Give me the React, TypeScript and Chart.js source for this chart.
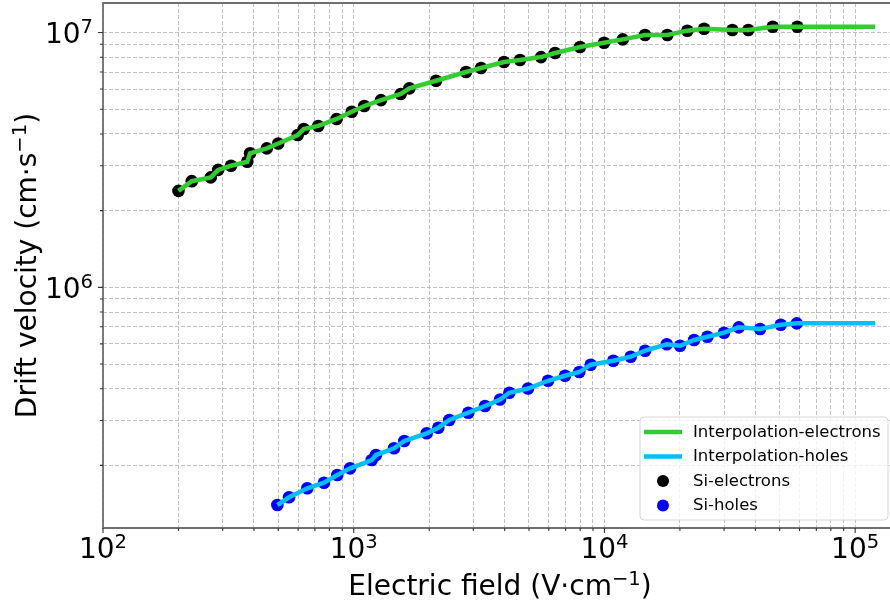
import React, { useEffect, useRef } from 'react';
import { Chart, registerables } from 'chart.js';

Chart.register(...registerables);

// ---------- data ----------
const electronField = [
  200, 226, 269, 288, 324, 376, 386, 450, 500, 598, 632, 722, 855, 982, 1102, 1285, 1540, 1667,
  2130, 2805, 3220, 3977, 4606, 5586, 6353, 7993, 9963, 11830, 14520, 17820, 21410, 24970, 32370,
  37500, 46900, 58790,
];
const electronVelocity = [
  2.39e6, 2.61e6, 2.7e6, 2.89e6, 3.0e6, 3.11e6, 3.36e6, 3.51e6, 3.67e6, 3.96e6, 4.18e6, 4.3e6,
  4.58e6, 4.89e6, 5.15e6, 5.43e6, 5.74e6, 6.04e6, 6.47e6, 7.0e6, 7.26e6, 7.66e6, 7.8e6, 8.01e6,
  8.31e6, 8.77e6, 9.12e6, 9.4e6, 9.78e6, 9.78e6, 1.017e7, 1.035e7, 1.023e7, 1.023e7, 1.054e7,
  1.054e7,
];
const holeField = [
  496, 552, 653, 761, 860, 967, 1180, 1227, 1448, 1591, 1955, 2175, 2406, 2865, 3340, 3834, 4175,
  4958, 5957, 6963, 7941, 8816, 10850, 12730, 14520, 17720, 20030, 22780, 25740, 29990, 34340,
  41760, 50490, 58480,
];
const holeVelocity = [
  1.398e5, 1.499e5, 1.626e5, 1.711e5, 1.834e5, 1.948e5, 2.1e5, 2.197e5, 2.334e5, 2.494e5, 2.673e5,
  2.812e5, 3.015e5, 3.22e5, 3.42e5, 3.628e5, 3.857e5, 4.007e5, 4.298e5, 4.498e5, 4.651e5, 4.969e5,
  5.152e5, 5.341e5, 5.639e5, 5.975e5, 5.899e5, 6.212e5, 6.399e5, 6.635e5, 6.966e5, 6.859e5,
  7.131e5, 7.222e5,
];
// the interpolation curves are carried on to this field
const interpolationEndField = 120000;

const xDecadeExponents = [2, 3, 4, 5];
const yDecadeExponents = [6, 7];
const tickMultipliers = [1, 2, 3, 4, 5, 6, 7, 8, 9];

const xLimits = [100, 1.377e5];
const yLimits = [1.136e5, 1.306e7];

const xTitle = ['Electric field (V·cm', '\u22121', ')'];
const yTitle = ['Drift velocity (cm·s', '\u22121', ')'];
const legendLabels = ['Interpolation-electrons', 'Interpolation-holes', 'Si-electrons', 'Si-holes'];

const FONT = '"DejaVu Sans", "Noto Sans", sans-serif';

function buildTicks(min: number, max: number): number[] {
  const out: number[] = [];
  for (let e = Math.floor(Math.log10(min)); e <= Math.ceil(Math.log10(max)); e++) {
    for (const m of tickMultipliers) {
      const v = m * Math.pow(10, e);
      if (v >= min * 0.9999 && v <= max * 1.0001) out.push(v);
    }
  }
  return out;
}

const xTicks = buildTicks(xLimits[0], xLimits[1]);
const yTicks = buildTicks(yLimits[0], yLimits[1]);

function isDecade(v: number) {
  const l = Math.log10(v);
  return Math.abs(l - Math.round(l)) < 1e-9;
}

function drawSupText(
  ctx: CanvasRenderingContext2D,
  parts: string[],
  x: number,
  y: number,
  size: number,
  align: 'left' | 'center' | 'right'
) {
  const supSize = size * 0.7;
  ctx.font = `${size}px ${FONT}`;
  const w0 = ctx.measureText(parts[0]).width;
  const w2 = parts[2] ? ctx.measureText(parts[2]).width : 0;
  ctx.font = `${supSize}px ${FONT}`;
  const w1 = ctx.measureText(parts[1]).width;
  const total = w0 + w1 + w2;
  let sx = x;
  if (align === 'center') sx = x - total / 2;
  else if (align === 'right') sx = x - total;
  ctx.textAlign = 'left';
  ctx.textBaseline = 'alphabetic';
  ctx.font = `${size}px ${FONT}`;
  ctx.fillText(parts[0], sx, y);
  ctx.font = `${supSize}px ${FONT}`;
  ctx.fillText(parts[1], sx + w0, y - size * 0.36);
  if (parts[2]) {
    ctx.font = `${size}px ${FONT}`;
    ctx.fillText(parts[2], sx + w0 + w1, y);
  }
}

const decorPlugin = {
  id: 'decor',
  afterDraw(chart: any) {
    const { ctx, chartArea: a, scales } = chart;
    const xs = scales.x;
    const ys = scales.y;
    ctx.save();

    // spines
    ctx.strokeStyle = '#6f6f6f';
    ctx.lineWidth = 1.8;
    ctx.setLineDash([]);
    ctx.beginPath();
    ctx.moveTo(a.right + 2, a.top);
    ctx.lineTo(a.left, a.top);
    ctx.lineTo(a.left, a.bottom);
    ctx.lineTo(a.right + 2, a.bottom);
    ctx.stroke();

    // tick marks
    ctx.lineWidth = 1.1;
    ctx.strokeStyle = '#333';
    ctx.beginPath();
    for (const v of xTicks) {
      const px = xs.getPixelForValue(v);
      const len = isDecade(v) ? 5 : 3;
      ctx.moveTo(px, a.bottom);
      ctx.lineTo(px, a.bottom + len);
    }
    for (const v of yTicks) {
      const py = ys.getPixelForValue(v);
      const len = isDecade(v) ? 5 : 3;
      ctx.moveTo(a.left, py);
      ctx.lineTo(a.left - len, py);
    }
    ctx.stroke();

    // tick labels
    ctx.fillStyle = '#000';
    for (const e of xDecadeExponents) {
      const px = xs.getPixelForValue(Math.pow(10, e));
      drawSupText(ctx, ['10', String(e)], px, a.bottom + 30, 28, 'center');
    }
    for (const e of yDecadeExponents) {
      const py = ys.getPixelForValue(Math.pow(10, e));
      drawSupText(ctx, ['10', String(e)], a.left - 10, py + 10.5, 28, 'right');
    }

    // axis titles
    drawSupText(ctx, xTitle, 500, 595, 28, 'center');
    ctx.save();
    ctx.translate(36, (a.top + a.bottom) / 2);
    ctx.rotate(-Math.PI / 2);
    drawSupText(ctx, yTitle, 0, 0, 28, 'center');
    ctx.restore();

    // legend
    const lx = 640, ly = 417, lw = 248, lh = 103, r = 4;
    ctx.beginPath();
    ctx.moveTo(lx + r, ly);
    ctx.lineTo(lx + lw - r, ly);
    ctx.arcTo(lx + lw, ly, lx + lw, ly + r, r);
    ctx.lineTo(lx + lw, ly + lh - r);
    ctx.arcTo(lx + lw, ly + lh, lx + lw - r, ly + lh, r);
    ctx.lineTo(lx + r, ly + lh);
    ctx.arcTo(lx, ly + lh, lx, ly + lh - r, r);
    ctx.lineTo(lx, ly + r);
    ctx.arcTo(lx, ly, lx + r, ly, r);
    ctx.closePath();
    ctx.fillStyle = 'rgba(255,255,255,0.8)';
    ctx.fill();
    ctx.strokeStyle = '#d6d6d6';
    ctx.lineWidth = 1;
    ctx.stroke();

    const rows = [432, 456.5, 481, 505.5];
    const ds = chart.data.datasets;
    for (let i = 0; i < 4; i++) {
      const yy = rows[i];
      const d = ds[i];
      if (i < 2) {
        ctx.strokeStyle = d.borderColor;
        ctx.lineWidth = 4.5;
        ctx.beginPath();
        ctx.moveTo(644, yy);
        ctx.lineTo(682, yy);
        ctx.stroke();
      } else {
        ctx.fillStyle = d.backgroundColor;
        ctx.beginPath();
        ctx.arc(663, yy, 6, 0, Math.PI * 2);
        ctx.fill();
      }
      ctx.fillStyle = '#000';
      ctx.font = `16.5px ${FONT}`;
      ctx.textAlign = 'left';
      ctx.textBaseline = 'middle';
      ctx.fillText(legendLabels[i], 693, yy + 0.5);
    }
    ctx.restore();
  },
};

export default function App() {
  const canvasRef = useRef<HTMLCanvasElement | null>(null);

  useEffect(() => {
    const canvas = canvasRef.current;
    if (!canvas) return;
    document.body.style.margin = '0';
    document.body.style.overflow = 'hidden';

    const ePts = electronField.map((x, i) => ({ x, y: electronVelocity[i] }));
    const hPts = holeField.map((x, i) => ({ x, y: holeVelocity[i] }));
    const eLine = [...ePts, { x: interpolationEndField, y: electronVelocity[electronVelocity.length - 1] }];
    const hLine = [...hPts, { x: interpolationEndField, y: holeVelocity[holeVelocity.length - 1] }];

    const gridCommon = {
      display: true,
      drawOnChartArea: true,
      drawTicks: false,
      color: '#b9b9b9',
      lineWidth: 0.9,
    };

    const chart = new Chart(canvas, {
      type: 'scatter',
      data: {
        datasets: [
          {
            label: legendLabels[0],
            data: eLine,
            showLine: true,
            borderColor: '#33cc33',
            backgroundColor: '#33cc33',
            borderWidth: 4.5,
            pointRadius: 0,
            tension: 0,
          },
          {
            label: legendLabels[1],
            data: hLine,
            showLine: true,
            borderColor: '#00bfff',
            backgroundColor: '#00bfff',
            borderWidth: 4.5,
            pointRadius: 0,
            tension: 0,
          },
          {
            label: legendLabels[2],
            data: ePts,
            showLine: false,
            backgroundColor: '#000000',
            borderColor: '#000000',
            borderWidth: 0,
            pointRadius: 6.3,
          },
          {
            label: legendLabels[3],
            data: hPts,
            showLine: false,
            backgroundColor: '#0000ff',
            borderColor: '#0000ff',
            borderWidth: 0,
            pointRadius: 6.3,
          },
        ],
      },
      options: {
        animation: false,
        responsive: false,
        maintainAspectRatio: false,
        devicePixelRatio: 1,
        layout: { autoPadding: false, padding: { left: 103, top: 3, right: 0, bottom: 75 } },
        plugins: {
          legend: { display: false },
          tooltip: { enabled: false },
          title: { display: false },
        },
        scales: {
          x: {
            type: 'logarithmic',
            min: xLimits[0],
            max: xLimits[1],
            ticks: { display: false },
            grid: gridCommon,
            border: { display: false, dash: [4, 2] },
            title: { display: false },
            afterBuildTicks: (s: any) => {
              s.ticks = xTicks.map((v) => ({ value: v, major: isDecade(v) }));
            },
            afterFit: (s: any) => {
              s.height = 0;
            },
          },
          y: {
            type: 'logarithmic',
            min: yLimits[0],
            max: yLimits[1],
            ticks: { display: false },
            grid: gridCommon,
            border: { display: false, dash: [4, 2] },
            title: { display: false },
            afterBuildTicks: (s: any) => {
              s.ticks = yTicks.map((v) => ({ value: v, major: isDecade(v) }));
            },
            afterFit: (s: any) => {
              s.width = 0;
            },
          },
        },
      } as any,
      plugins: [decorPlugin],
    });

    return () => {
      chart.destroy();
    };
  }, []);

  return (
    <div style={{ position: 'fixed', left: 0, top: 0, width: 890, height: 603, background: '#fff' }}>
      <canvas ref={canvasRef} width={890} height={603} style={{ display: 'block', width: 890, height: 603 }} />
    </div>
  );
}
